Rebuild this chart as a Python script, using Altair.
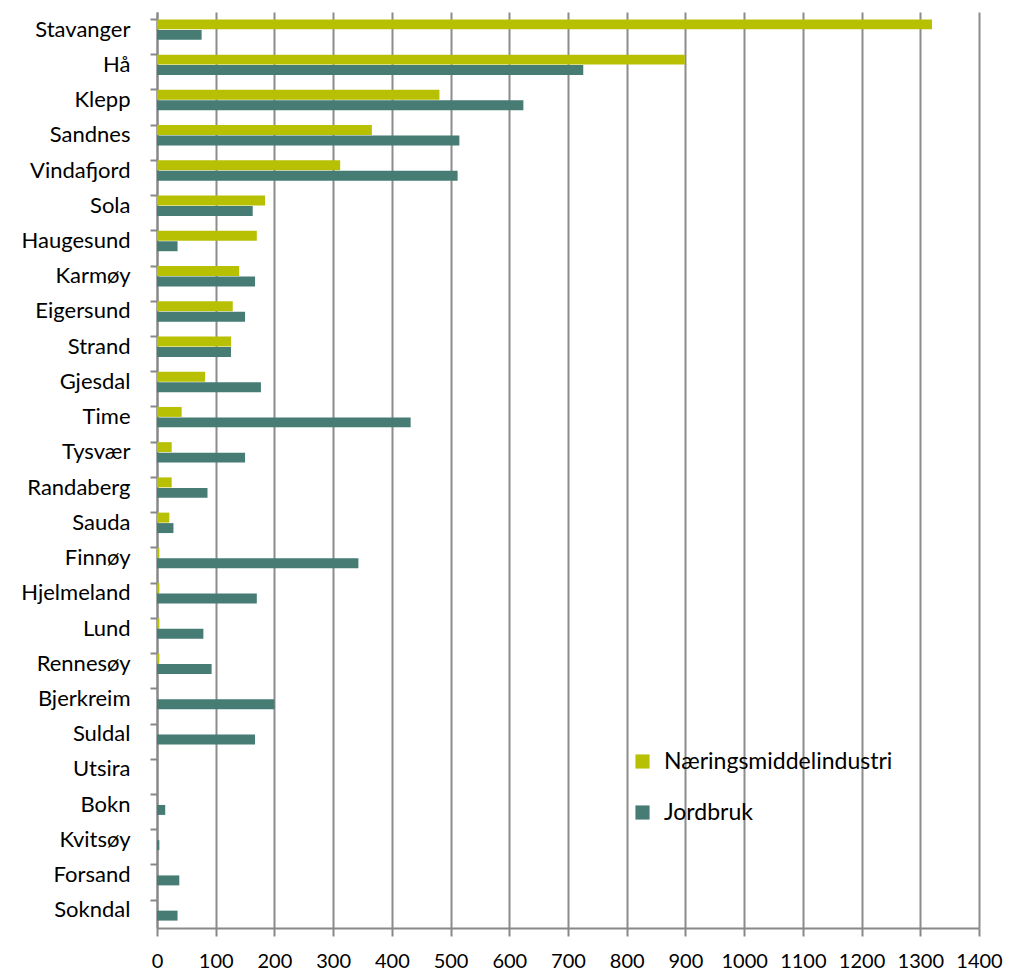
import altair as alt
import pandas as pd

kommuner = ["Stavanger", "Hå", "Klepp", "Sandnes", "Vindafjord", "Sola", "Haugesund",
            "Karmøy", "Eigersund", "Strand", "Gjesdal", "Time", "Tysvær", "Randaberg",
            "Sauda", "Finnøy", "Hjelmeland", "Lund", "Rennesøy", "Bjerkreim", "Suldal",
            "Utsira", "Bokn", "Kvitsøy", "Forsand", "Sokndal"]
naering = [1320, 899, 481, 366, 312, 184, 170, 140, 129, 126, 82, 42, 25, 25,
           21, 4, 4, 4, 4, 0, 0, 0, 0, 0, 0, 0]
jordbruk = [76, 726, 624, 515, 512, 163, 35, 167, 150, 126, 177, 432, 150, 86,
            28, 343, 170, 79, 93, 200, 167, 0, 14, 4, 38, 35]
serier = ["Næringsmiddelindustri", "Jordbruk"]
farger = ["#B8C004", "#467C74"]
x_ticks = list(range(0, 1401, 100))

rows = []
for k, a, b in zip(kommuner, naering, jordbruk):
    rows.append({"kommune": k, "serie": serier[0], "verdi": a})
    rows.append({"kommune": k, "serie": serier[1], "verdi": b})
df = pd.DataFrame(rows)

font = "Lato"

chart = alt.Chart(df).mark_bar(stroke=None).encode(
    y=alt.Y("kommune:N", sort=kommuner, title=None,
            scale=alt.Scale(paddingInner=0.42, paddingOuter=0.21),
            axis=alt.Axis(bandPosition=0, tickSize=7, tickColor="#888888", tickWidth=2,
                          domainColor="#888888", domainWidth=2, labelFont=font,
                          labelFontSize=22, labelColor="#000000", labelPadding=20,
                          labelLimit=0, grid=False)),
    yOffset=alt.YOffset("serie:N", sort=serier, scale=alt.Scale(paddingInner=0.05)),
    x=alt.X("verdi:Q", title=None,
            scale=alt.Scale(domain=[0, 1400], nice=False),
            axis=alt.Axis(values=x_ticks, format="d", tickSize=8, tickColor="#888888",
                          tickWidth=2, domainColor="#888888", domainWidth=2,
                          gridColor="#8C8C8C", gridWidth=2, labelFont=font,
                          labelFontSize=20, labelColor="#000000", labelPadding=15,
                          labelFlush=False, labelOverlap=False)),
    color=alt.Color("serie:N", sort=serier,
                    scale=alt.Scale(domain=serier, range=farger),
                    legend=alt.Legend(title=None, orient="none", legendX=474, legendY=738,
                                      symbolType="square", symbolSize=200,
                                      symbolStrokeWidth=0, labelFont=font,
                                      labelFontSize=23, labelColor="#000000",
                                      labelLimit=0, rowPadding=27, labelOffset=10)),
).properties(
    width=822, height=916,
    autosize=alt.AutoSizeParams(type="none"),
    padding={"left": 149, "top": 4, "right": 24, "bottom": 45},
).configure_view(stroke=None)

chart.save("out.html", embed_options={"renderer": "svg", "actions": False})
